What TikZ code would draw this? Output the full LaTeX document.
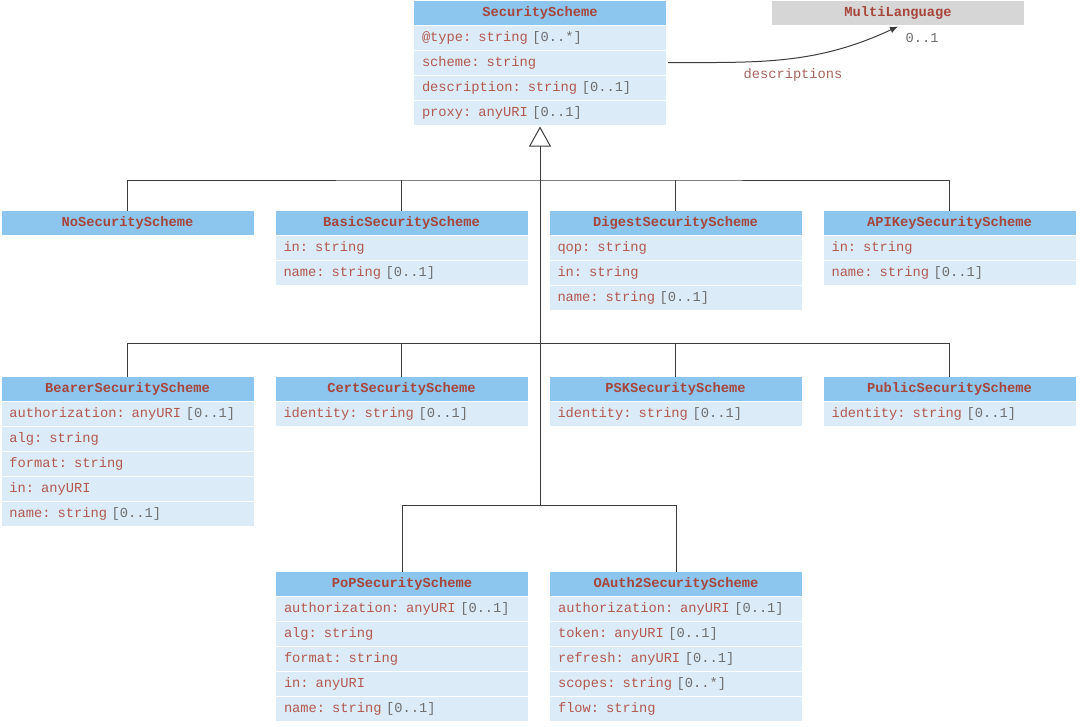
\documentclass[tikz,border=0pt]{standalone}
\usepackage{fontspec}
\setmonofont{Liberation Mono}
\usepackage{tikz}
\usetikzlibrary{arrows.meta, positioning}

\definecolor{hdblue}{HTML}{8CC6EE}
\definecolor{rowblue}{HTML}{DCEBF8}
\definecolor{hdgray}{HTML}{D6D6D6}
\definecolor{namered}{HTML}{A8453B}
\definecolor{attrred}{HTML}{B3594F}
\definecolor{multgray}{HTML}{6E6E6E}
\definecolor{linegray}{HTML}{3C3C3C}
\newcommand{\card}[1]{\textcolor{multgray}{#1}}

\begin{document}
\begin{tikzpicture}[
  x=0.75pt, y=-0.75pt,
  node distance=0.75pt,
  cls/.style={rectangle, fill=hdblue, minimum width=189pt, minimum height=18pt, inner sep=0pt, outer sep=0pt, text=namered, font=\ttfamily\bfseries\fontsize{10.3}{12}\selectfont},
  attr/.style={rectangle, fill=rowblue, text width=177pt, inner xsep=6pt, inner ysep=0pt, outer sep=0pt, minimum height=18pt, align=left, text=attrred, font=\ttfamily\fontsize{10.3}{12}\selectfont},
  link/.style={draw=linegray, line width=0.75pt},
  gen/.style={link, -{Triangle[open, length=15pt, width=16.5pt]}},
  assoc/.style={link, -{Latex[length=6pt, width=5pt]}},
  lbl/.style={font=\ttfamily\fontsize{10.3}{12}\selectfont, inner sep=0pt}
]
\useasboundingbox (0,0) rectangle (1080,726);

% base class
\node[cls] (ss) at (540,12.5) {SecurityScheme};
\node[attr, below=of ss] (ss1) {@type: string \card{[0..*]}};
\node[attr, below=of ss1] (ss2) {scheme: string};
\node[attr, below=of ss2] (ss3) {description: string \card{[0..1]}};
\node[attr, below=of ss3] (ss4) {proxy: anyURI \card{[0..1]}};

\node[cls, fill=hdgray] (ml) at (898,12.5) {MultiLanguage};
\node[lbl, text=multgray] (mlmult) at (922,38) {0..1};
\node[lbl, text=attrred!70!gray] (mldesc) at (793,75) {descriptions};

% first row
\node[cls] (nosec) at (127.5,222.5) {NoSecurityScheme};

\node[cls, right=16.5pt of nosec] (basic) {BasicSecurityScheme};
\node[attr, below=of basic] (basic1) {in: string};
\node[attr, below=of basic1] (basic2) {name: string \card{[0..1]}};

\node[cls, right=16.5pt of basic] (digest) {DigestSecurityScheme};
\node[attr, below=of digest] (digest1) {qop: string};
\node[attr, below=of digest1] (digest2) {in: string};
\node[attr, below=of digest2] (digest3) {name: string \card{[0..1]}};

\node[cls, right=16.5pt of digest] (apikey) {APIKeySecurityScheme};
\node[attr, below=of apikey] (apikey1) {in: string};
\node[attr, below=of apikey1] (apikey2) {name: string \card{[0..1]}};

% second row
\node[cls] (bearer) at (127.5,388.5) {BearerSecurityScheme};
\node[attr, below=of bearer] (bearer1) {authorization: anyURI \card{[0..1]}};
\node[attr, below=of bearer1] (bearer2) {alg: string};
\node[attr, below=of bearer2] (bearer3) {format: string};
\node[attr, below=of bearer3] (bearer4) {in: anyURI};
\node[attr, below=of bearer4] (bearer5) {name: string \card{[0..1]}};

\node[cls, right=16.5pt of bearer] (cert) {CertSecurityScheme};
\node[attr, below=of cert] (cert1) {identity: string \card{[0..1]}};

\node[cls, right=16.5pt of cert] (psk) {PSKSecurityScheme};
\node[attr, below=of psk] (psk1) {identity: string \card{[0..1]}};

\node[cls, right=16.5pt of psk] (public) {PublicSecurityScheme};
\node[attr, below=of public] (public1) {identity: string \card{[0..1]}};

% third row
\node[cls] (pop) at (402,583.5) {PoPSecurityScheme};
\node[attr, below=of pop] (pop1) {authorization: anyURI \card{[0..1]}};
\node[attr, below=of pop1] (pop2) {alg: string};
\node[attr, below=of pop2] (pop3) {format: string};
\node[attr, below=of pop3] (pop4) {in: anyURI};
\node[attr, below=of pop4] (pop5) {name: string \card{[0..1]}};

\node[cls, right=16.5pt of pop] (oauth) {OAuth2SecurityScheme};
\node[attr, below=of oauth] (oauth1) {authorization: anyURI \card{[0..1]}};
\node[attr, below=of oauth1] (oauth2) {token: anyURI \card{[0..1]}};
\node[attr, below=of oauth2] (oauth3) {refresh: anyURI \card{[0..1]}};
\node[attr, below=of oauth3] (oauth4) {scopes: string \card{[0..*]}};
\node[attr, below=of oauth4] (oauth5) {flow: string};

% generalization
\coordinate (bus1) at (540,180);
\coordinate (bus2) at (540,343);
\coordinate (bus3) at (540,505);
\draw[gen] (bus3) -- ([yshift=-1.5pt]ss4.south);
\draw[link] (nosec.north) |- (bus1) -| (apikey.north);
\draw[link] (basic.north) -- (basic.north |- bus1);
\draw[link] (digest.north) -- (digest.north |- bus1);
\draw[link] (bearer.north) |- (bus2) -| (public.north);
\draw[link] (cert.north) -- (cert.north |- bus2);
\draw[link] (psk.north) -- (psk.north |- bus2);
\draw[link] (pop.north) |- (bus3) -| (oauth.north);

% association
\draw[assoc] ([xshift=1.5pt]ss2.east) to[out=0, in=-155] ([yshift=-1.5pt]ml.south);

\end{tikzpicture}
\end{document}
